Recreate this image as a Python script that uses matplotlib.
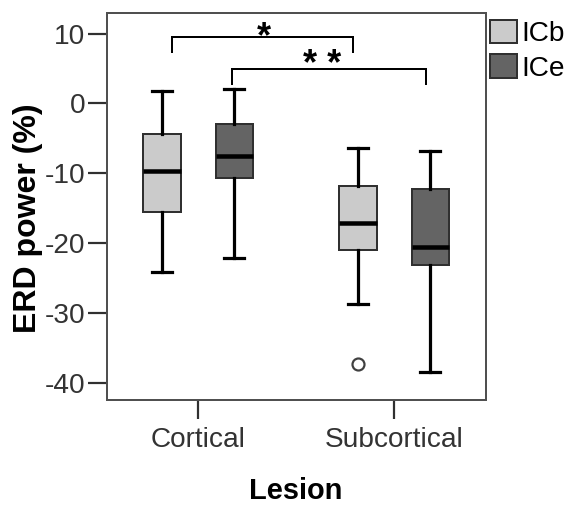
import numpy as np
import matplotlib
matplotlib.use("Agg")
import matplotlib.pyplot as plt
from matplotlib.patches import Patch

plt.rcParams['font.family'] = ['Liberation Sans', 'DejaVu Sans']
plt.rcParams['axes.unicode_minus'] = False

# --- DATA ---
lesions = ["Cortical", "Subcortical"]
groups = ["ICb", "ICe"]
# per box: [whisker low, Q1, median, Q3, whisker high], order Cortical ICb, Cortical ICe, Subcortical ICb, Subcortical ICe
whislo = [-24.2, -22.1, -28.7, -38.5]
q1 = [-15.6, -10.7, -21.0, -23.1]
med = [-9.7, -7.5, -17.2, -20.6]
q3 = [-4.4, -3.0, -11.8, -12.3]
whishi = [1.7, 2.0, -6.4, -6.8]
outliers = [[], [], [-37.4], []]

# significance brackets: (left x, right x, height, leg bottom, star x, star baseline, label)
brackets = [(-0.136, 0.788, 9.5, 7.4, 0.335, 8.1, "*"),
            (0.173, 1.160, 4.9, 2.7, 0.634, 4.1, "* *")]

fills = {"ICb": "#cbcbcb", "ICe": "#646464"}
offset = 0.184
PX = 72 / 100  # points per pixel at dpi 100

fig = plt.figure(figsize=(5.7, 5.05), dpi=100)
ax = fig.add_axes([107.3 / 570, 1 - 400 / 505, (486 - 107.3) / 570, (400 - 13.3) / 505])

stats = []
positions = []
colors = []
for i, lesion in enumerate(lesions):
    for j, g in enumerate(groups):
        k = i * 2 + j
        stats.append(dict(whislo=whislo[k], q1=q1[k], med=med[k], q3=q3[k],
                          whishi=whishi[k], fliers=np.array(outliers[k])))
        positions.append(i + (j - 0.5) * 2 * offset)
        colors.append(fills[g])

bp = ax.bxp(stats, positions=positions, widths=0.191, capwidths=0.102,
            patch_artist=True, manage_ticks=False,
            boxprops=dict(edgecolor="#303030", linewidth=2.0 * PX),
            medianprops=dict(color="black", linewidth=4.5 * PX, solid_capstyle="butt"),
            whiskerprops=dict(color="black", linewidth=3.2 * PX),
            capprops=dict(color="black", linewidth=3.2 * PX),
            flierprops=dict(marker="o", markersize=12 * PX, markerfacecolor="white",
                            markeredgecolor="#404040", markeredgewidth=2.2 * PX))
for patch, c in zip(bp["boxes"], colors):
    patch.set_facecolor(c)

# brackets with stars
for x0, x1, y, yb, sx, sy, lab in brackets:
    ax.plot([x0, x0, x1, x1], [yb, y, y, yb], color="black", lw=2.0 * PX,
            solid_joinstyle="miter")
    ax.text(sx, sy, lab, ha="center", va="baseline",
            fontsize=36 * PX, fontweight="bold")

ax.set_xlim(-0.464, 1.468)
ax.set_ylim(-42.5, 12.9)
ax.set_xticks([0, 1])
ax.set_xticklabels(lesions)
ax.set_yticks([10, 0, -10, -20, -30, -40])

for s in ax.spines.values():
    s.set_color("#505050")
    s.set_linewidth(2.0 * PX)
ax.tick_params(axis="both", direction="out", length=19 * PX, width=2.2 * PX,
               color="#303030", labelsize=28 * PX, labelcolor="#333333", pad=2)
ax.tick_params(axis="x", pad=6)

fig.text(28 / 570, 1 - 218 / 505, "ERD power (%)", rotation=90, ha="center",
         va="center", fontsize=32 * PX, fontweight="bold")
fig.text(296 / 570, 1 - 499 / 505, "Lesion", ha="center", va="baseline",
         fontsize=29 * PX, fontweight="bold")

handles = [Patch(facecolor=fills[g], edgecolor="#303030", linewidth=2.0 * PX) for g in groups]
ax.legend(handles, groups, loc="upper left", bbox_to_anchor=(1.0, 0.994),
          frameon=False, fontsize=28 * PX, handlelength=0.97, handleheight=0.92,
          handletextpad=0.15, labelspacing=0.25, borderaxespad=0.15, borderpad=0.0)

fig.savefig("out.png", dpi=100)
